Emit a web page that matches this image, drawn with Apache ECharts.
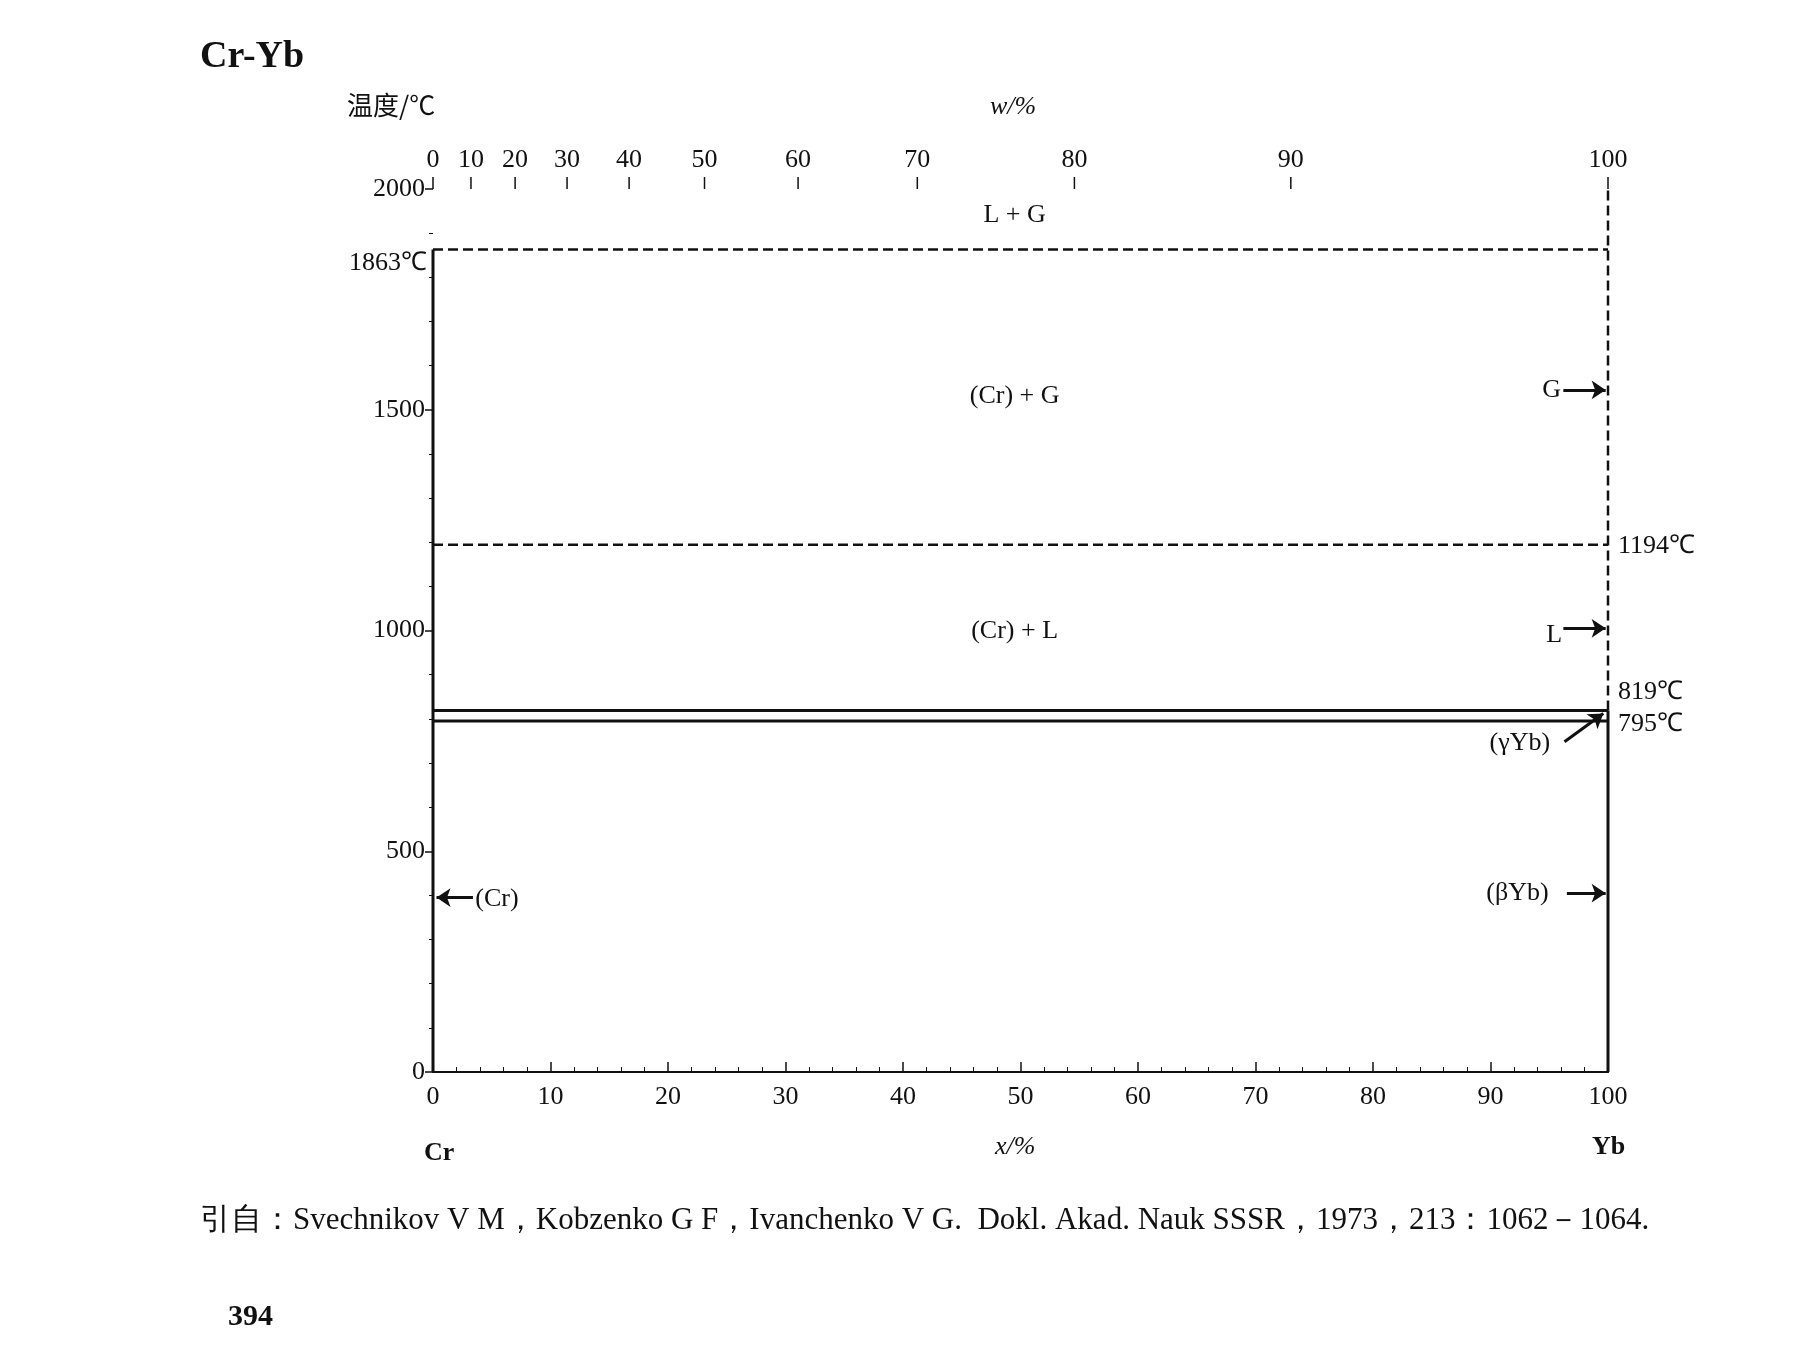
<!DOCTYPE html>
<html>
<head>
<meta charset="utf-8">
<script src="https://cdn.jsdelivr.net/npm/echarts@6/dist/echarts.min.js"></script>
<style>html,body{margin:0;padding:0;background:#fff}#main{width:1795px;height:1346px}</style>
</head>
<body>
<div id="main"></div>
<script>
// 摩尔质量，用来把 w% 换成 x%
var mCr = 52.00, mYb = 173.04
var xTicks = [0, 10, 20, 30, 40, 50, 60, 70, 80, 90, 100]
var wTicks = [0, 10, 20, 30, 40, 50, 60, 70, 80, 90, 100]
var yTicks = [0, 500, 1000, 1500, 2000]
var tGas = 1863
var tYbBoil = 1194
var tYbMelt = 819
var tYbTrans = 795
var crLeft = [[0, 0], [0, tGas]]
var ybRightSolid = [[100, 0], [100, tYbMelt]]
var ybRightDash = [[100, tYbMelt], [100, 2000]]
// 箭头: 起点, 终点
var arrows = [
  [[96.2, 1545], [99.8, 1545]],
  [[96.2, 1005], [99.8, 1005]],
  [[96.3, 748], [99.6, 812]],
  [[96.5, 405], [99.8, 405]],
  [[3.4, 395], [0.3, 395]]
]

function wToX (w) {
  var a = w / mYb, b = (100 - w) / mCr
  return a / (a + b) * 100
}

var serif = 'Liberation Serif'
var myChart = echarts.init(document.getElementById('main'))

function lineS (data, type, width) {
  return {
    type: 'line', data: data, symbol: 'none', silent: true,
    lineStyle: { color: '#111', width: width || 2.5, type: type || 'solid' }
  }
}
function textS (x, y, text, align, extra) {
  return {
    type: 'custom', silent: true, data: [[x, y]],
    renderItem: function (params, api) {
      var p = api.coord([api.value(0), api.value(1)])
      return {
        type: 'text', x: p[0] + ((extra && extra.dx) || 0), y: p[1] + ((extra && extra.dy) || 0),
        style: { text: text, font: '26px ' + serif, fill: '#111', align: align || 'center', verticalAlign: 'middle' }
      }
    }
  }
}

myChart.setOption({
  animation: false,
  grid: { left: 433, top: 189, width: 1175, height: 883 },
  xAxis: [{
    type: 'value', min: 0, max: 100, interval: 10, position: 'bottom',
    axisLine: { onZero: false, lineStyle: { color: '#111', width: 2 } },
    axisTick: { inside: true, length: 10, lineStyle: { color: '#111', width: 1.5 } },
    minorTick: { show: true, splitNumber: 5, length: 5, lineStyle: { color: '#111' } },
    axisLabel: { color: '#111', fontFamily: serif, fontSize: 26, margin: 12 },
    splitLine: { show: false }
  }, {
    type: 'value', min: 0, max: 100, position: 'top',
    axisLine: { lineStyle: { color: '#111', width: 2 } },
    axisTick: { show: false }, axisLabel: { show: false }, splitLine: { show: false }
  }],
  yAxis: [{
    type: 'value', min: 0, max: 2000, interval: 500,
    axisLine: { show: false },
    axisTick: { length: 8, lineStyle: { color: '#111', width: 1.5 } },
    minorTick: { show: true, splitNumber: 5, length: 4, lineStyle: { color: '#111' } },
    axisLabel: { color: '#111', fontFamily: serif, fontSize: 26, margin: 8, formatter: function (v) { return String(v) } },
    splitLine: { show: false }
  }],
  graphic: [
    { type: 'text', left: 200, top: 38, style: { text: 'Cr-Yb', font: 'bold 38px ' + serif, fill: '#111' } },
    { type: 'text', left: 347, top: 92, style: { text: '温度/℃', font: '26px "Noto Sans CJK SC", ' + serif, fill: '#111' } },
    { type: 'text', left: 990, top: 94, style: { text: 'w/%', font: 'italic 26px ' + serif, fill: '#111' } },
    { type: 'text', left: 995, top: 1134, style: { text: 'x/%', font: 'italic 26px ' + serif, fill: '#111' } },
    { type: 'text', left: 424, top: 1140, style: { text: 'Cr', font: 'bold 26px ' + serif, fill: '#111' } },
    { type: 'text', left: 1592, top: 1134, style: { text: 'Yb', font: 'bold 26px ' + serif, fill: '#111' } },
    { type: 'text', left: 200, top: 1205, style: { text: '引自：Svechnikov V M，Kobzenko G F，Ivanchenko V G.  Dokl. Akad. Nauk SSSR，1973，213：1062－1064.', font: '31px ' + serif, fill: '#111' } },
    { type: 'text', left: 228, top: 1302, style: { text: '394', font: 'bold 30px ' + serif, fill: '#111' } }
  ],
  series: [
    lineS(crLeft, 'solid', 3),
    lineS(ybRightSolid, 'solid', 3),
    lineS(ybRightDash, 'dashed', 2.5),
    lineS([[0, tGas], [100, tGas]], 'dashed', 2.5),
    lineS([[0, tYbBoil], [100, tYbBoil]], 'dashed', 2.5),
    lineS([[0, tYbMelt], [100, tYbMelt]], 'solid', 3),
    lineS([[0, tYbTrans], [100, tYbTrans]], 'solid', 3),
    {
      type: 'lines', coordinateSystem: 'cartesian2d', silent: true,
      symbol: ['none', 'arrow'], symbolSize: 14,
      lineStyle: { color: '#111', width: 3, opacity: 1 },
      data: arrows.map(function (a) { return { coords: a } })
    },
    {
      type: 'custom', xAxisIndex: 1, silent: true,
      data: wTicks.map(function (w) { return [wToX(w), 2000, w] }),
      renderItem: function (params, api) {
        var p = api.coord([api.value(0), api.value(1)])
        return {
          type: 'group',
          children: [
            { type: 'line', shape: { x1: p[0], y1: p[1], x2: p[0], y2: p[1] - 12 }, style: { stroke: '#111', lineWidth: 1.5 } },
            { type: 'text', x: p[0], y: p[1] - 16, style: { text: String(api.value(2)), font: '26px ' + serif, fill: '#111', align: 'center', verticalAlign: 'bottom' } }
          ]
        }
      }
    },
    textS(49.5, 1940, 'L + G'),
    textS(49.5, 1530, '(Cr) + G'),
    textS(49.5, 998, '(Cr) + L'),
    textS(0, 1863, '1863℃', 'right', { dx: -6, dy: 14 }),
    textS(100, 1190, '1194℃', 'left', { dx: 10 }),
    textS(100, 860, '819℃', 'left', { dx: 10 }),
    textS(100, 787, '795℃', 'left', { dx: 10 }),
    textS(96, 1545, 'G', 'right'),
    textS(96.1, 990, 'L', 'right'),
    textS(92.5, 745, '(γYb)'),
    textS(92.3, 405, '(βYb)'),
    textS(3.6, 392, '(Cr)', 'left')
  ]
})
</script>
</body>
</html>
